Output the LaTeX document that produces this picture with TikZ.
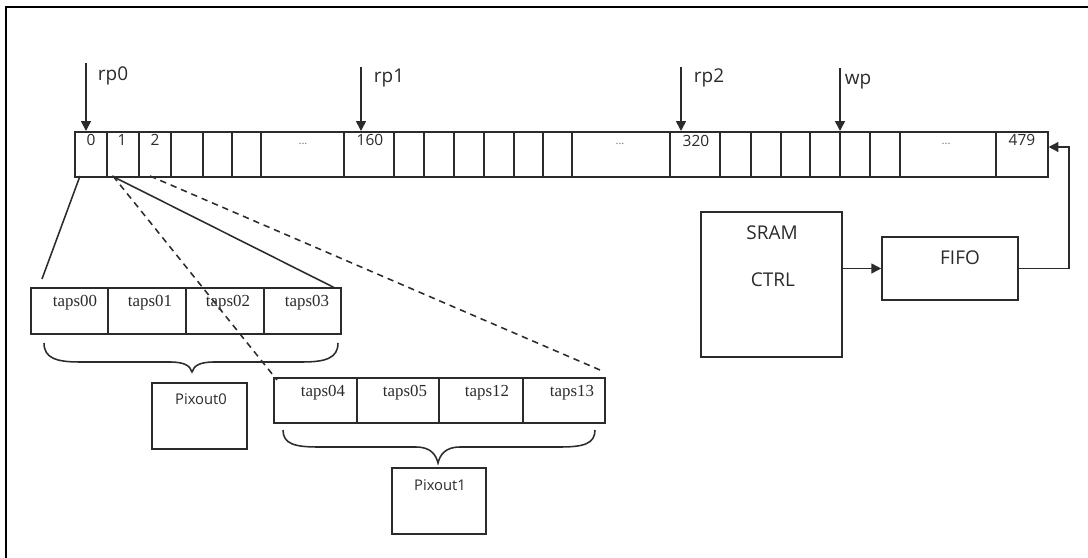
\documentclass[tikz,border=0pt]{standalone}
\usepackage{fontspec}
\usetikzlibrary{arrows.meta,calc}
\newfontfamily\labfont{Open Sans}
\newfontfamily\tapsfont{Liberation Serif}
\definecolor{ink}{HTML}{2B2B2B}
\tikzset{
  ln/.style={draw=ink, line width=1.1pt},
  dln/.style={ln, dash pattern=on 4.5pt off 3.5pt},
  cellbox/.style={draw=ink, line width=1.1pt, inner sep=0pt, anchor=north west},
  blockbox/.style={draw=ink, line width=1.1pt, inner sep=0pt},
  arr/.style={ln, -{Triangle[length=7pt,width=7pt]}},
  lab/.style={font=\labfont\fontsize{13.5}{13.5}\selectfont, inner sep=0pt, text=ink},
  num/.style={font=\labfont\fontsize{11}{11}\selectfont, inner sep=0pt, text=ink},
  dots/.style={font=\labfont\fontsize{8}{8}\selectfont, inner sep=0pt, text=black!55},
  tapsl/.style={font=\tapsfont\fontsize{12}{12}\selectfont, inner sep=0pt, text=ink},
  pixl/.style={font=\labfont\fontsize{10.5}{10.5}\selectfont, inner sep=0pt, text=ink},
}
\begin{document}
\begin{tikzpicture}[x=0.025cm,y=-0.025cm]
\useasboundingbox (0,0) rectangle (1088,558);
% frame (top and left edges)
\draw[black, line width=1.3pt] (6,558) -- (6,7) -- (1088,7);

% main array
\foreach \a/\b [count=\i] in {74/106,106/138,138/170,170/202,202/231,231/260,260/343,343/393,393/423,423/453,453/483,483/513,513/542,542/571,571/669,669/719,719/750,750/780,780/809,809/839,839/869,869/899,899/995,995/1047}
  \node[cellbox, minimum width={(\b-\a)*0.025cm}, minimum height={45*0.025cm}] (c\i) at (\a,131) {};

\node[num] (n0) at (91,140) {0};
\node[num] (n1) at (122,140) {1};
\node[num] (n2) at (155,140) {2};
\node[dots] (d1) at (303,144) {...};
\node[num] (n160) at (370,140) {160};
\node[dots] (d2) at (620,144) {...};
\node[num] (n320) at (696,141) {320};
\node[dots] (d3) at (946,144) {...};
\node[num] (n479) at (1022,140) {479};

% pointers
\coordinate (p0) at (86,63);
\coordinate (p1) at (361,67);
\coordinate (p2) at (681,67);
\coordinate (pw) at (840,68);
\draw[arr] (p0) -- (p0 |- c1.north);
\draw[arr] (p1) -- (p1 |- c8.north);
\draw[arr] (p2) -- (p2 |- c16.north);
\draw[arr] (pw) -- (pw |- c20.north);
\node[lab] (lrp0) at (113,76) {rp0};
\node[lab] (lrp1) at (389,78) {rp1};
\node[lab] (lrp2) at (709,78) {rp2};
\node[lab] (lwp) at (858,82) {wp};

% taps rows
\foreach \a/\b [count=\i] in {30/107,107/185,185/263,263/340}
  \node[cellbox, minimum width={(\b-\a)*0.025cm}, minimum height={46*0.025cm}] (ta\i) at (\a,287) {};
\foreach \a/\b [count=\i] in {273/356,356/438,438/522,522/604}
  \node[cellbox, minimum width={(\b-\a)*0.025cm}, minimum height={45*0.025cm}] (tb\i) at (\a,377) {};

\node[tapsl] (t00) at (75,303) {taps00};
\node[tapsl] (t01) at (150,303) {taps01};
\node[tapsl] (t02) at (228,303) {taps02};
\node[tapsl] (t03) at (307,303) {taps03};
\node[tapsl] (t04) at (323,393) {taps04};
\node[tapsl] (t05) at (405,393) {taps05};
\node[tapsl] (t12) at (487,393) {taps12};
\node[tapsl] (t13) at (572,393) {taps13};

% fan lines
\coordinate (fa) at (80,176);
\coordinate (fb) at (112,176);
\coordinate (fc) at (113,176);
\coordinate (fd) at (150,176);
\coordinate (ga) at (42,279);
\coordinate (gb) at (335,288);
\coordinate (gc) at (277,380);
\coordinate (gd) at (600,370);
\draw[ln] (fa) -- (ga);
\draw[ln] (fb) -- (gb);
\draw[dln] (fc) -- (gc);
\draw[dln] (fd) -- (gd);

% braces
\draw[ln] (44,343) .. controls (44,358) and (56,362) .. (80,362) -- (170,362)
  .. controls (185,362) and (190,366) .. (192,372)
  .. controls (194,366) and (199,362) .. (214,362) -- (302,362)
  .. controls (326,362) and (338,358) .. (338,343);
\draw[ln] (283,430) .. controls (283,444) and (295,447) .. (318,447) -- (416,447)
  .. controls (431,447) and (436,455) .. (438,463)
  .. controls (440,455) and (445,447) .. (460,447) -- (560,447)
  .. controls (583,447) and (595,444) .. (595,430);

% pixout boxes
\node[blockbox, minimum width={95*0.025cm}, minimum height={66*0.025cm}] (px0) at (199.5,416) {};
\node[pixl] (lpx0) at (201,399) {Pixout0};
\node[blockbox, minimum width={94*0.025cm}, minimum height={66*0.025cm}] (px1) at (439,501) {};
\node[pixl] (lpx1) at (440,485) {Pixout1};

% SRAM CTRL and FIFO
\node[blockbox, minimum width={141*0.025cm}, minimum height={145*0.025cm}] (sram) at (771.5,284.5) {};
\node[lab] (lsram) at (772,233) {SRAM};
\node[lab] (lctrl) at (773,280) {CTRL};
\node[blockbox, minimum width={136*0.025cm}, minimum height={63*0.025cm}] (fifo) at (950,268.5) {};
\node[lab] (lfifo) at (960,258) {FIFO};

\draw[arr] (sram.east |- fifo.west) -- (fifo.west);
\coordinate (bend) at (1069,147);
\draw[arr] (fifo.east) -| (bend) -- (bend -| c24.east);
\end{tikzpicture}
\end{document}
